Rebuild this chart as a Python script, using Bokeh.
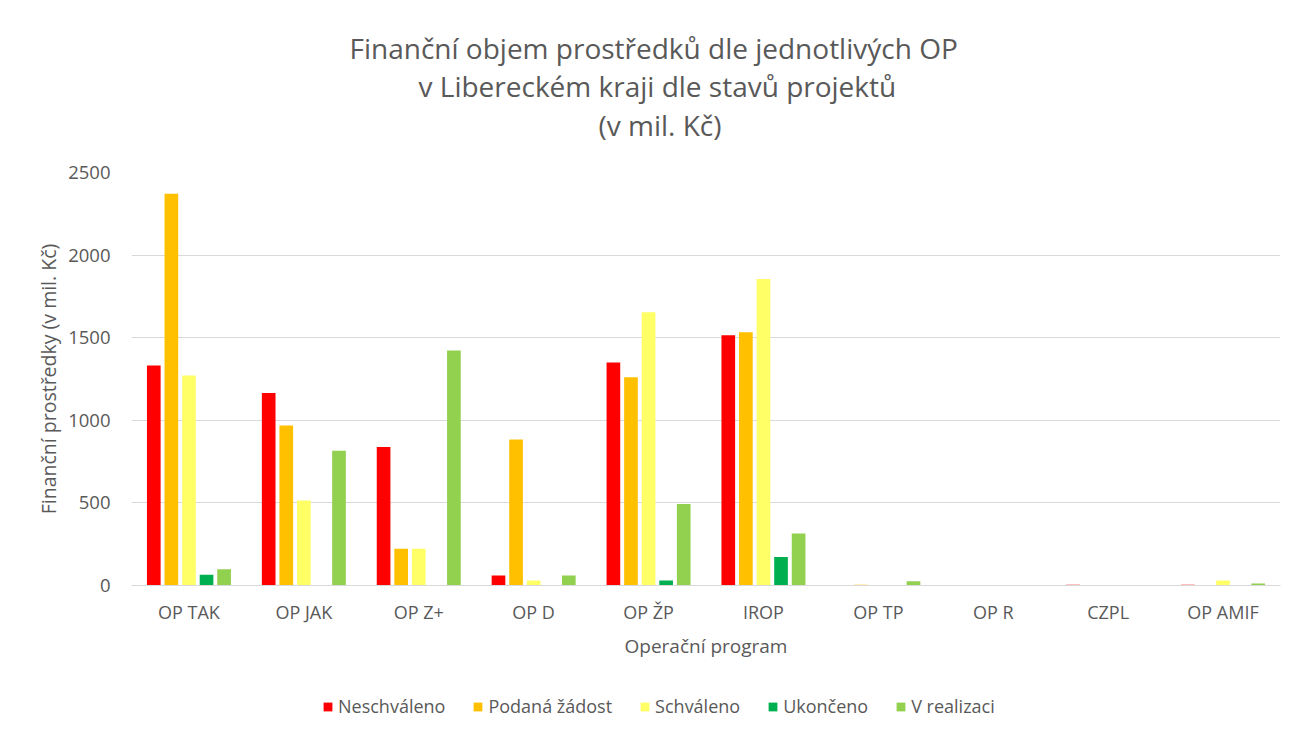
from bokeh.plotting import figure
from bokeh.models import FactorRange, Legend, LegendItem, Title, Range1d
from bokeh.layouts import column
from bokeh.transform import dodge
from bokeh.embed import file_html
from bokeh.resources import INLINE

programs = ["OP TAK", "OP JAK", "OP Z+", "OP D", "OP ŽP", "IROP", "OP TP", "OP R", "CZPL", "OP AMIF"]
neschvaleno = [1332, 1166, 839, 60, 1350, 1515, 0, 3, 4, 4]
podana_zadost = [2371, 968, 222, 884, 1261, 1533, 4, 2, 0, 0]
schvaleno = [1271, 514, 222, 30, 1654, 1856, 0, 3, 1, 30]
ukonceno = [65, 0, 2, 0, 30, 172, 0, 0, 0, 0]
v_realizaci = [99, 815, 1422, 60, 494, 315, 25, 0, 0, 12]

series_names = ["Neschváleno", "Podaná žádost", "Schváleno", "Ukončeno", "V realizaci"]
series_values = [neschvaleno, podana_zadost, schvaleno, ukonceno, v_realizaci]
colors = ["#FF0000", "#FFC000", "#FFFF66", "#00B050", "#92D050"]
title_lines = ["Finanční objem prostředků dle jednotlivých OP",
               "v Libereckém kraji dle stavů projektů",
               "(v mil. Kč)"]

FONT = "Open Sans"
TXT = "#595959"
W = 1288

p = figure(x_range=FactorRange(*programs), y_range=(0, 2500),
           width=W, height=672, output_backend="svg", toolbar_location=None,
           min_border_left=131, min_border_right=8, min_border_top=172, min_border_bottom=87)
p.title.visible = False
# spacer between frame and title block
p.add_layout(Title(text=" ", text_font_size="10px", standoff=15), "above")
title_offsets = [218, 287, 467]
title_standoffs = [-1, -4, 2]
for line, off, so in reversed(list(zip(title_lines, title_offsets, title_standoffs))):
    t = Title(text=line, align="left", text_font=FONT, text_font_size="28px",
              text_font_style="normal", text_color=TXT, offset=off, standoff=so)
    p.add_layout(t, "above")

p.outline_line_color = None

offsets = [-0.306, -0.153, 0.0, 0.153, 0.306]
for name, vals, col, off in zip(series_names, series_values, colors, offsets):
    src = {"x": programs, "top": vals}
    p.vbar(x=dodge("x", off, range=p.x_range), top="top", width=0.119, source=src,
           fill_color=col, line_color=None)

p.xgrid.grid_line_color = None
p.ygrid.grid_line_color = "#D9D9D9"
p.yaxis.ticker = [0, 500, 1000, 1500, 2000, 2500]

p.yaxis.axis_line_color = None
p.yaxis.major_tick_line_color = None
p.yaxis.minor_tick_line_color = None
p.yaxis.major_label_text_font = FONT
p.yaxis.major_label_text_font_size = "18.5px"
p.yaxis.major_label_text_color = TXT
p.yaxis.major_label_standoff = 15
p.yaxis.axis_label = "Finanční prostředky (v mil. Kč)"
p.yaxis.axis_label_text_font = FONT
p.yaxis.axis_label_text_font_size = "19.5px"
p.yaxis.axis_label_text_font_style = "normal"
p.yaxis.axis_label_text_color = TXT
p.yaxis.axis_label_standoff = 3

p.xaxis.axis_line_color = "#D9D9D9"
p.xaxis.major_tick_line_color = None
p.xaxis.minor_tick_line_color = None
p.xaxis.major_label_text_font = FONT
p.xaxis.major_label_text_font_size = "18px"
p.xaxis.major_label_text_color = TXT
p.xaxis.major_label_standoff = 8
p.xaxis.axis_label = "Operační program"
p.xaxis.axis_label_text_font = FONT
p.xaxis.axis_label_text_font_size = "19px"
p.xaxis.axis_label_text_font_style = "normal"
p.xaxis.axis_label_text_color = TXT
p.xaxis.axis_label_standoff = 6

# legend strip below the chart
lg = figure(width=W, height=58, x_range=Range1d(0, 1), y_range=Range1d(0, 1),
            output_backend="svg", toolbar_location=None,
            x_axis_type=None, y_axis_type=None, min_border=0)
lg.outline_line_color = None
lg.xgrid.grid_line_color = None
lg.ygrid.grid_line_color = None
items = []
for name, col in zip(series_names, colors):
    r = lg.vbar(x=[-5], top=[-5], width=0.1, fill_color=col, line_color=None)
    items.append(LegendItem(label=name, renderers=[r]))
legend = Legend(items=items, orientation="horizontal", location=(191, 12),
                label_text_font=FONT, label_text_font_size="18px", label_text_color=TXT,
                glyph_width=11, glyph_height=11, spacing=27, label_standoff=5,
                padding=0, margin=0, border_line_color=None, background_fill_alpha=0)
lg.add_layout(legend, "center")

layout = column(p, lg, spacing=0)
open("out.html", "w").write(file_html(layout, INLINE))
